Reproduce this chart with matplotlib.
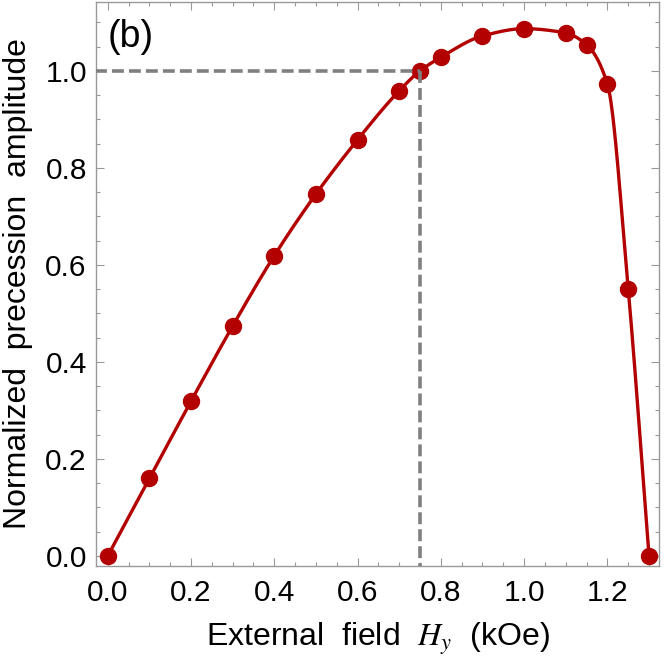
import numpy as np
import matplotlib
matplotlib.use("Agg")
import matplotlib.pyplot as plt
from matplotlib.ticker import MultipleLocator

plt.rcParams['font.family'] = ['Liberation Sans', 'DejaVu Sans']
plt.rcParams['mathtext.fontset'] = 'stix'

field = [0.0, 0.1, 0.2, 0.3, 0.4, 0.5, 0.6, 0.7, 0.75, 0.8, 0.9, 1.0, 1.1, 1.15, 1.2, 1.25, 1.3]
amplitude = [0.0, 0.160, 0.319, 0.474, 0.619, 0.746, 0.858, 0.959, 1.0, 1.028, 1.072, 1.087,
             1.078, 1.054, 0.973, 0.550, 0.0]
ref_field = 0.75
ref_amp = 1.0

def pchip(x, y, xs):
    x = np.asarray(x, float); y = np.asarray(y, float)
    h = np.diff(x); d = np.diff(y) / h
    n = len(x); m = np.zeros(n)
    for k in range(1, n - 1):
        if d[k - 1] * d[k] > 0:
            w1 = 2 * h[k] + h[k - 1]; w2 = h[k] + 2 * h[k - 1]
            m[k] = (w1 + w2) / (w1 / d[k - 1] + w2 / d[k])
    m[0] = d[0]; m[-1] = d[-1]
    idx = np.clip(np.searchsorted(x, xs) - 1, 0, n - 2)
    t = (xs - x[idx]) / h[idx]
    h00 = 2*t**3 - 3*t**2 + 1; h10 = t**3 - 2*t**2 + t
    h01 = -2*t**3 + 3*t**2; h11 = t**3 - t**2
    return h00*y[idx] + h10*h[idx]*m[idx] + h01*y[idx+1] + h11*h[idx]*m[idx+1]

red = '#b30000'
fig = plt.figure(figsize=(6.64, 6.63), dpi=100)
ax = fig.add_axes([0.1453, 0.1463, 0.8472, 0.8507])

xs = np.linspace(field[0], field[-1], 800)
ax.plot(xs, pchip(field, amplitude, xs), color=red, lw=2.4, zorder=2)
ax.plot(field, amplitude, 'o', color=red, ms=11.5, zorder=3)

ax.plot([-0.03, ref_field], [ref_amp, ref_amp], color='#808080', lw=2.6,
        dashes=(3.3, 1.4), zorder=4)
ax.plot([ref_field, ref_field], [ref_amp, -0.03], color='#808080', lw=2.6,
        dashes=(3.3, 1.4), zorder=4)

ax.set_xlim(-0.027, 1.324)
ax.set_ylim(-0.0206, 1.142)
ax.xaxis.set_major_locator(MultipleLocator(0.2))
ax.xaxis.set_minor_locator(MultipleLocator(0.05))
ax.yaxis.set_major_locator(MultipleLocator(0.2))
ax.yaxis.set_minor_locator(MultipleLocator(0.05))
ax.xaxis.set_major_formatter(matplotlib.ticker.FormatStrFormatter('%.1f'))
ax.yaxis.set_major_formatter(matplotlib.ticker.FormatStrFormatter('%.1f'))

for s in ax.spines.values():
    s.set_color('#999999'); s.set_linewidth(1.0)
ax.tick_params(which='both', direction='in', top=True, right=True, color='#999999',
               labelsize=21.5, width=0.8)
ax.tick_params(which='major', length=5.5, pad=7)
ax.tick_params(which='minor', length=3)
ax.tick_params(axis='x', which='major', pad=9)

ax.set_xlabel('External  field  $H_y$  (kOe)', fontsize=23, labelpad=10)
ax.set_ylabel('Normalized  precession  amplitude', fontsize=23, labelpad=9)
ax.text(0.02, 0.97, '(b)', transform=ax.transAxes, fontsize=27, va='top', ha='left')

fig.savefig('out.png', dpi=100)
